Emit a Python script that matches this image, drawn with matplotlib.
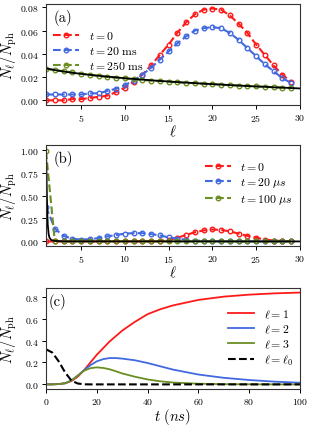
import matplotlib
matplotlib.use("Agg")
import matplotlib.pyplot as plt

plt.rcParams['font.family'] = 'serif'
plt.rcParams['font.serif'] = ['cmr10']
plt.rcParams['mathtext.fontset'] = 'cm'
plt.rcParams['axes.formatter.use_mathtext'] = True
plt.rcParams['axes.unicode_minus'] = False

red = '#ff1a1a'
blue = '#4169e1'
green = '#6b8e23'

# panel (a)
ell_a = list(range(1, 30))
a_t0 = [0.000, 0.000, 0.000, 0.001, 0.001, 0.002, 0.003, 0.004, 0.007, 0.011,
        0.016, 0.022, 0.030, 0.039, 0.048, 0.058, 0.067, 0.074, 0.078, 0.079,
        0.078, 0.073, 0.066, 0.058, 0.048, 0.039, 0.030, 0.022, 0.016]
a_t20 = [0.005, 0.005, 0.005, 0.005, 0.005, 0.006, 0.006, 0.008, 0.010, 0.013,
         0.017, 0.022, 0.028, 0.035, 0.042, 0.049, 0.055, 0.060, 0.062, 0.063,
         0.062, 0.058, 0.052, 0.045, 0.038, 0.031, 0.025, 0.019, 0.015]
a_t250 = [0.027, 0.026, 0.025, 0.024, 0.023, 0.022, 0.021, 0.020, 0.0195, 0.019,
          0.018, 0.0175, 0.017, 0.0165, 0.016, 0.0155, 0.015, 0.0148, 0.0143, 0.014,
          0.0135, 0.013, 0.0127, 0.0123, 0.012, 0.0117, 0.0113, 0.011, 0.0107]
ell_a_fit = list(range(1, 31))
a_fit = [0.0275, 0.0260, 0.0248, 0.0237, 0.0228, 0.0219, 0.0211, 0.0204, 0.0197, 0.0190,
         0.0184, 0.0178, 0.0172, 0.0167, 0.0162, 0.0157, 0.0152, 0.0148, 0.0143, 0.0139,
         0.0135, 0.0131, 0.0127, 0.0123, 0.0119, 0.0116, 0.0112, 0.0109, 0.0106, 0.0102]

# panel (b)
ell_b = list(range(1, 30))
b_t0 = [0.0, 0.0, 0.0, 0.0, 0.0, 0.0, 0.0, 0.0, 0.0, 0.0,
        0.0, 0.001, 0.002, 0.005, 0.015, 0.04, 0.07, 0.10, 0.12, 0.13,
        0.125, 0.11, 0.085, 0.06, 0.04, 0.02, 0.01, 0.005, 0.002]
b_t20 = [0.38, 0.14, 0.06, 0.03, 0.02, 0.025, 0.035, 0.055, 0.07, 0.085,
         0.09, 0.09, 0.08, 0.065, 0.045, 0.03, 0.02, 0.01, 0.005, 0.002,
         0.001, 0.0, 0.0, 0.0, 0.0, 0.0, 0.0, 0.0, 0.0]
b_t100 = [0.98, 0.005, 0.0, 0.0, 0.0, 0.0, 0.0, 0.0, 0.0, 0.0,
          0.0, 0.0, 0.0, 0.0, 0.0, 0.0, 0.0, 0.0, 0.0, 0.0,
          0.0, 0.0, 0.0, 0.0, 0.0, 0.0, 0.0, 0.0, 0.0]
ell_b_fit = [1.0, 1.05, 1.1, 1.15, 1.2, 1.3, 1.4, 1.6, 2.0, 3.0, 30.0]
b_fit = [1.0, 0.75, 0.5, 0.3, 0.18, 0.08, 0.04, 0.015, 0.005, 0.001, 0.0]

# panel (c)
t_c = [0, 2.5, 5, 7.5, 10, 12.5, 15, 17.5, 20, 22.5, 25, 27.5, 30, 35, 40, 45, 50, 60, 70, 80, 90, 100]
c_l1 = [0, 0, 0.003, 0.01, 0.03, 0.07, 0.13, 0.20, 0.27, 0.33, 0.39, 0.44, 0.49,
        0.57, 0.64, 0.685, 0.72, 0.77, 0.80, 0.818, 0.83, 0.837]
c_l2 = [0, 0, 0.003, 0.01, 0.035, 0.08, 0.13, 0.175, 0.21, 0.23, 0.24, 0.24, 0.235,
        0.22, 0.195, 0.165, 0.135, 0.09, 0.06, 0.04, 0.025, 0.015]
c_l3 = [0, 0, 0.003, 0.01, 0.035, 0.08, 0.125, 0.148, 0.155, 0.15, 0.138, 0.12, 0.10,
        0.07, 0.045, 0.028, 0.017, 0.006, 0.002, 0.001, 0, 0]
c_l0 = [0.32, 0.29, 0.21, 0.11, 0.035, 0.008, 0.001, 0, 0, 0, 0, 0, 0,
        0, 0, 0, 0, 0, 0, 0, 0, 0]

fig = plt.figure(figsize=(3.13, 4.27), dpi=100)
W = 0.811
H = 0.2365
ax_a = fig.add_axes([0.147, 0.752, W, H])
ax_b = fig.add_axes([0.147, 0.4215, W, H])
ax_c = fig.add_axes([0.147, 0.0867, W, H])

mk = dict(marker='o', markersize=3.3, markerfacecolor='none', markeredgewidth=1.0,
          linestyle='--', linewidth=1.5)

ax_a.plot(ell_a, a_t0, color=red, label=r'$t=0$', **mk)
ax_a.plot(ell_a, a_t20, color=blue, label=r'$t=20\ \mathrm{ms}$', **mk)
ax_a.plot(ell_a, a_t250, color=green, label=r'$t=250\ \mathrm{ms}$', **mk)
ax_a.plot(ell_a_fit, a_fit, color='black', linewidth=1.3)
ax_a.set_xlim(1, 30)
ax_a.set_xticks([5, 10, 15, 20, 25, 30])
ax_a.set_yticks([0.0, 0.02, 0.04, 0.06, 0.08])
ax_a.set_xlabel(r'$\ell$', fontsize=10.5, labelpad=0)
ax_a.set_ylabel(r'$N_\ell/N_{\rm ph}$', fontsize=10.5)
ax_a.text(0.03, 0.95, '(a)', transform=ax_a.transAxes, fontsize=10.5, va='top', ha='left')
ax_a.legend(loc='upper left', bbox_to_anchor=(0.0, 0.82), frameon=False, fontsize=8.5,
            handlelength=2.2, labelspacing=0.25, borderaxespad=0.2)

ax_b.plot(ell_b, b_t0, color=red, label=r'$t=0$', **mk)
ax_b.plot(ell_b, b_t20, color=blue, label=r'$t=20\ \mu s$', **mk)
ax_b.plot(ell_b, b_t100, color=green, label=r'$t=100\ \mu s$', **mk)
ax_b.plot(ell_b_fit, b_fit, color='black', linewidth=1.3)
ax_b.set_xlim(1, 30)
ax_b.set_xticks([5, 10, 15, 20, 25, 30])
ax_b.set_yticks([0.0, 0.25, 0.5, 0.75, 1.0])
ax_b.set_xlabel(r'$\ell$', fontsize=10.5, labelpad=0)
ax_b.set_ylabel(r'$N_\ell/N_{\rm ph}$', fontsize=10.5)
ax_b.text(0.03, 0.95, '(b)', transform=ax_b.transAxes, fontsize=10.5, va='top', ha='left')
ax_b.legend(loc='upper right', bbox_to_anchor=(1.0, 0.92), frameon=False, fontsize=8.5,
            handlelength=2.2, labelspacing=0.25, borderaxespad=0.2)

ax_c.plot(t_c, c_l1, color=red, linewidth=1.3, label=r'$\ell=1$')
ax_c.plot(t_c, c_l2, color=blue, linewidth=1.3, label=r'$\ell=2$')
ax_c.plot(t_c, c_l3, color=green, linewidth=1.3, label=r'$\ell=3$')
ax_c.plot(t_c, c_l0, color='black', linewidth=1.5, linestyle='--', label=r'$\ell=\ell_0$')
ax_c.set_xlim(0, 100)
ax_c.set_yticks([0.0, 0.2, 0.4, 0.6, 0.8])
ax_c.set_xlabel(r'$t\ (ns)$', fontsize=10.5, labelpad=0)
ax_c.set_ylabel(r'$N_\ell/N_{\rm ph}$', fontsize=10.5)
ax_c.text(0.012, 0.95, '(c)', transform=ax_c.transAxes, fontsize=10.5, va='top', ha='left')
ax_c.legend(loc='upper right', bbox_to_anchor=(1.0, 0.88), frameon=False, fontsize=8.5,
            handlelength=2.2, labelspacing=0.25, borderaxespad=0.2)

for ax in (ax_a, ax_b, ax_c):
    ax.tick_params(labelsize=7, length=3, width=0.7, pad=2)
    ax.yaxis.set_label_coords(-0.105, 0.5)
    for s in ax.spines.values():
        s.set_linewidth(0.8)
        s.set_color('#333333')

fig.savefig('out.png', dpi=100)
